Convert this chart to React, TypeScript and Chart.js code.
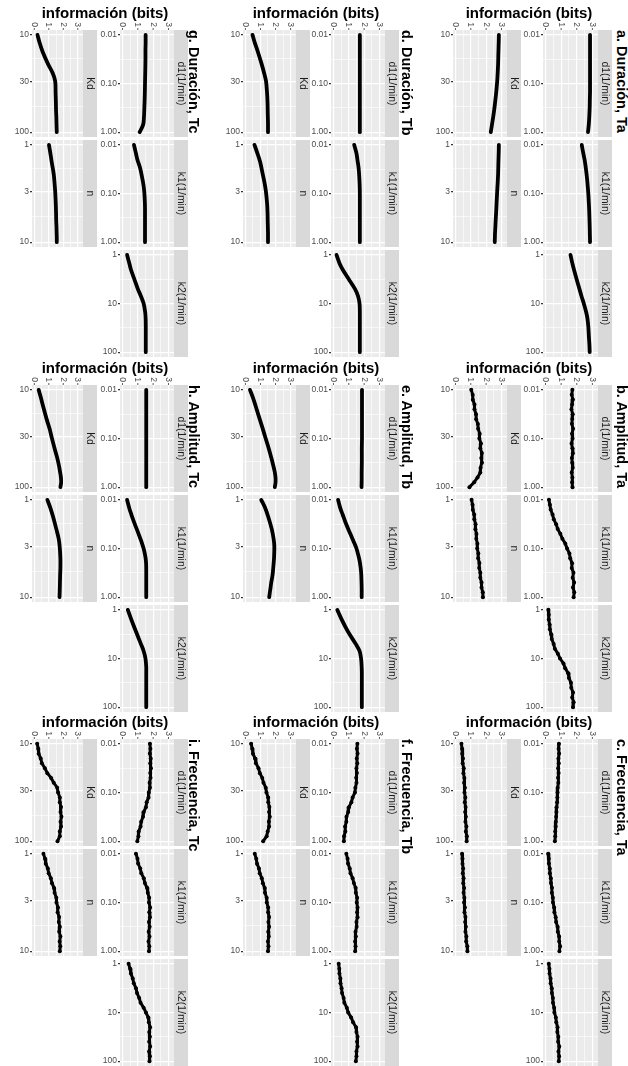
import React, { useEffect, useRef } from "react";
import { Chart, registerables } from "chart.js";
Chart.register(...registerables);

const FONT = '"Liberation Sans", Arial, Helvetica, sans-serif';

// ---- parameter grids (values along the log axis) ----
const gridRate = [0.01, 0.015, 0.02, 0.03, 0.05, 0.07, 0.1, 0.15, 0.2, 0.3, 0.5, 0.7, 1];
const gridK2 = [1, 1.5, 2, 3, 5, 7, 10, 15, 20, 30, 50, 70, 100];
const gridKd = [10, 12, 15, 20, 25, 30, 40, 50, 60, 70, 80, 90, 100];
const gridN = [1, 1.2, 1.5, 2, 2.5, 3, 4, 5, 6, 7, 8, 9, 10];
// denser grids used for the noisy (scatter-like) panels
const fineRate = [0.01, 0.0126, 0.0158, 0.02, 0.0251, 0.0316, 0.0398, 0.05, 0.063, 0.0794, 0.1, 0.126, 0.158, 0.2, 0.251, 0.316, 0.398, 0.5, 0.63, 0.794, 1];
const fineK2 = [1, 1.26, 1.58, 2, 2.51, 3.16, 3.98, 5.01, 6.31, 7.94, 10, 12.6, 15.8, 20, 25.1, 31.6, 39.8, 50.1, 63.1, 79.4, 100];
const fineKd = [10, 11.2, 12.6, 14.1, 15.8, 17.8, 20, 22.4, 25.1, 28.2, 31.6, 35.5, 39.8, 44.7, 50.1, 56.2, 63.1, 70.8, 79.4, 89.1, 100];
const fineN = [1, 1.12, 1.26, 1.41, 1.58, 1.78, 2, 2.24, 2.51, 2.82, 3.16, 3.55, 3.98, 4.47, 5.01, 5.62, 6.31, 7.08, 7.94, 8.91, 10];

// ---- información (bits) per panel / facet ----
// a. Duración, Ta
const aD1 = [2.85, 2.85, 2.85, 2.85, 2.85, 2.85, 2.85, 2.85, 2.84, 2.83, 2.8, 2.77, 2.72];
const aK1 = [2.32, 2.42, 2.5, 2.58, 2.66, 2.7, 2.74, 2.77, 2.79, 2.81, 2.83, 2.84, 2.85];
const aK2 = [1.6, 1.72, 1.82, 1.97, 2.17, 2.3, 2.45, 2.6, 2.68, 2.74, 2.78, 2.81, 2.83];
const aKd = [2.83, 2.82, 2.8, 2.78, 2.75, 2.72, 2.65, 2.58, 2.52, 2.46, 2.4, 2.35, 2.3];
const aN = [2.83, 2.82, 2.8, 2.78, 2.75, 2.72, 2.68, 2.65, 2.62, 2.6, 2.58, 2.57, 2.56];
// b. Amplitud, Ta (fine grids)
const bD1 = [1.72, 1.68, 1.75, 1.7, 1.66, 1.74, 1.71, 1.69, 1.76, 1.7, 1.73, 1.67, 1.72, 1.75, 1.69, 1.71, 1.74, 1.68, 1.72, 1.7, 1.73];
const bK1 = [0.22, 0.28, 0.33, 0.45, 0.53, 0.68, 0.78, 0.95, 1.08, 1.27, 1.38, 1.53, 1.58, 1.7, 1.68, 1.79, 1.74, 1.83, 1.76, 1.84, 1.8];
const bK2 = [0.18, 0.21, 0.21, 0.26, 0.28, 0.36, 0.4, 0.52, 0.6, 0.79, 0.93, 1.15, 1.26, 1.45, 1.5, 1.63, 1.65, 1.76, 1.71, 1.8, 1.76];
const bKd = [1.03, 1.12, 1.13, 1.24, 1.24, 1.34, 1.35, 1.46, 1.48, 1.58, 1.56, 1.66, 1.62, 1.72, 1.68, 1.73, 1.64, 1.62, 1.44, 1.22, 0.91];
const bN = [1.05, 1.11, 1.13, 1.22, 1.23, 1.31, 1.3, 1.37, 1.36, 1.43, 1.42, 1.49, 1.48, 1.56, 1.55, 1.62, 1.62, 1.7, 1.7, 1.78, 1.79];
// c. Frecuencia, Ta (fine grids)
const cD1 = [0.86, 0.84, 0.87, 0.83, 0.85, 0.81, 0.84, 0.8, 0.82, 0.78, 0.77, 0.76, 0.74, 0.71, 0.7, 0.68, 0.66, 0.65, 0.62, 0.62, 0.6];
const cK1 = [0.17, 0.21, 0.22, 0.27, 0.28, 0.34, 0.35, 0.41, 0.41, 0.47, 0.48, 0.55, 0.57, 0.65, 0.68, 0.77, 0.79, 0.87, 0.88, 0.93, 0.89];
const cK2 = [0.21, 0.25, 0.26, 0.32, 0.33, 0.4, 0.41, 0.47, 0.48, 0.55, 0.57, 0.66, 0.69, 0.77, 0.76, 0.82, 0.81, 0.88, 0.83, 0.87, 0.85];
const cKd = [0.39, 0.43, 0.44, 0.49, 0.47, 0.54, 0.52, 0.58, 0.56, 0.62, 0.59, 0.64, 0.61, 0.66, 0.63, 0.68, 0.65, 0.71, 0.68, 0.74, 0.73];
const cN = [0.43, 0.46, 0.46, 0.5, 0.48, 0.53, 0.51, 0.56, 0.53, 0.58, 0.56, 0.62, 0.59, 0.65, 0.63, 0.68, 0.65, 0.71, 0.7, 0.77, 0.78];
// d. Duración, Tb
const dD1 = [1.72, 1.72, 1.72, 1.72, 1.72, 1.72, 1.72, 1.72, 1.72, 1.72, 1.72, 1.72, 1.72];
const dK1 = [1.35, 1.5, 1.56, 1.64, 1.69, 1.71, 1.72, 1.72, 1.72, 1.72, 1.72, 1.72, 1.72];
const dK2 = [0.2, 0.4, 0.6, 0.95, 1.4, 1.6, 1.7, 1.72, 1.72, 1.72, 1.72, 1.72, 1.72];
const dKd = [0.47, 0.62, 0.83, 1.08, 1.25, 1.37, 1.44, 1.47, 1.48, 1.49, 1.5, 1.5, 1.5];
const dN = [0.6, 0.78, 0.98, 1.15, 1.28, 1.36, 1.44, 1.47, 1.48, 1.49, 1.5, 1.5, 1.5];
// e. Amplitud, Tb
const eD1 = [1.86, 1.86, 1.86, 1.86, 1.86, 1.86, 1.86, 1.85, 1.85, 1.85, 1.84, 1.84, 1.83];
const eK1 = [0.3, 0.45, 0.6, 0.8, 1.1, 1.3, 1.5, 1.65, 1.73, 1.8, 1.83, 1.84, 1.84];
const eK2 = [0.25, 0.5, 0.7, 1.0, 1.45, 1.7, 1.8, 1.84, 1.85, 1.85, 1.85, 1.85, 1.85];
const eKd = [0.3, 0.5, 0.7, 0.95, 1.15, 1.3, 1.55, 1.72, 1.85, 1.95, 2.0, 2.0, 1.95];
const eN = [1.05, 1.3, 1.52, 1.75, 1.87, 1.92, 1.9, 1.85, 1.8, 1.72, 1.67, 1.62, 1.58];
// f. Frecuencia, Tb (fine grids)
const fD1 = [1.56, 1.53, 1.57, 1.52, 1.55, 1.5, 1.53, 1.48, 1.5, 1.43, 1.4, 1.25, 1.17, 1.01, 0.96, 0.85, 0.84, 0.76, 0.77, 0.69, 0.68];
const fK1 = [0.84, 0.92, 0.95, 1.06, 1.11, 1.25, 1.33, 1.44, 1.46, 1.54, 1.52, 1.57, 1.54, 1.57, 1.5, 1.51, 1.44, 1.46, 1.41, 1.44, 1.41];
const fK2 = [0.34, 0.38, 0.39, 0.45, 0.46, 0.53, 0.56, 0.66, 0.71, 0.87, 0.96, 1.15, 1.28, 1.47, 1.5, 1.57, 1.54, 1.57, 1.5, 1.5, 1.46];
const fKd = [0.38, 0.45, 0.5, 0.64, 0.7, 0.87, 0.96, 1.12, 1.2, 1.35, 1.4, 1.51, 1.52, 1.59, 1.57, 1.62, 1.56, 1.57, 1.48, 1.41, 1.18];
const fN = [0.62, 0.72, 0.77, 0.9, 0.95, 1.09, 1.16, 1.28, 1.3, 1.41, 1.42, 1.51, 1.51, 1.57, 1.53, 1.57, 1.52, 1.55, 1.5, 1.53, 1.5];
// g. Duración, Tc
const gD1 = [1.51, 1.51, 1.5, 1.5, 1.49, 1.48, 1.47, 1.46, 1.45, 1.43, 1.4, 1.35, 1.12];
const gK1 = [0.75, 0.88, 0.97, 1.15, 1.3, 1.38, 1.43, 1.46, 1.47, 1.47, 1.47, 1.47, 1.47];
const gK2 = [0.3, 0.45, 0.55, 0.75, 1.0, 1.2, 1.38, 1.48, 1.51, 1.52, 1.52, 1.52, 1.52];
const gKd = [0.22, 0.36, 0.58, 0.95, 1.28, 1.44, 1.47, 1.49, 1.5, 1.52, 1.53, 1.54, 1.55];
const gN = [1.01, 1.1, 1.2, 1.34, 1.4, 1.44, 1.48, 1.5, 1.51, 1.53, 1.54, 1.55, 1.55];
// h. Amplitud, Tc
const hD1 = [1.55, 1.55, 1.55, 1.55, 1.55, 1.55, 1.55, 1.55, 1.55, 1.55, 1.55, 1.55, 1.55];
const hK1 = [0.3, 0.45, 0.58, 0.78, 1.05, 1.22, 1.38, 1.5, 1.54, 1.55, 1.55, 1.55, 1.55];
const hK2 = [0.35, 0.55, 0.7, 0.92, 1.2, 1.38, 1.5, 1.55, 1.55, 1.55, 1.55, 1.55, 1.55];
const hKd = [0.3, 0.45, 0.62, 0.85, 1.05, 1.18, 1.4, 1.58, 1.7, 1.78, 1.84, 1.85, 1.8];
const hN = [0.9, 1.1, 1.3, 1.52, 1.68, 1.75, 1.8, 1.8, 1.78, 1.77, 1.76, 1.75, 1.74];
// i. Frecuencia, Tc (fine grids)
const iD1 = [1.79, 1.82, 1.79, 1.84, 1.81, 1.86, 1.81, 1.83, 1.77, 1.79, 1.72, 1.7, 1.58, 1.53, 1.39, 1.34, 1.22, 1.18, 1.06, 1.04, 0.97];
const iK1 = [0.88, 0.98, 1.02, 1.16, 1.23, 1.39, 1.46, 1.6, 1.65, 1.74, 1.73, 1.8, 1.75, 1.79, 1.73, 1.77, 1.71, 1.76, 1.7, 1.75, 1.73];
const iK2 = [0.4, 0.5, 0.55, 0.67, 0.74, 0.88, 0.95, 1.09, 1.18, 1.38, 1.53, 1.68, 1.72, 1.8, 1.75, 1.79, 1.74, 1.8, 1.74, 1.79, 1.76];
const iKd = [0.2, 0.27, 0.3, 0.44, 0.52, 0.73, 0.9, 1.16, 1.34, 1.58, 1.64, 1.76, 1.76, 1.84, 1.81, 1.87, 1.81, 1.84, 1.76, 1.76, 1.6];
const iN = [0.63, 0.74, 0.79, 0.93, 0.99, 1.14, 1.22, 1.36, 1.4, 1.52, 1.53, 1.63, 1.61, 1.71, 1.69, 1.76, 1.72, 1.8, 1.75, 1.79, 1.76];

const INFO_TICKS = [0, 0.5, 1, 1.5, 2, 2.5, 3];
const INFO_LABELS = ["0", "1", "2", "3"];

const PANELS = [
  { title: "a. Duración, Ta", col: 2, row: 0, noisy: false, d1: aD1, k1: aK1, k2: aK2, Kd: aKd, n: aN },
  { title: "b. Amplitud, Ta", col: 2, row: 1, noisy: true, d1: bD1, k1: bK1, k2: bK2, Kd: bKd, n: bN },
  { title: "c. Frecuencia, Ta", col: 2, row: 2, noisy: true, d1: cD1, k1: cK1, k2: cK2, Kd: cKd, n: cN },
  { title: "d. Duración, Tb", col: 1, row: 0, noisy: false, d1: dD1, k1: dK1, k2: dK2, Kd: dKd, n: dN },
  { title: "e. Amplitud, Tb", col: 1, row: 1, noisy: false, d1: eD1, k1: eK1, k2: eK2, Kd: eKd, n: eN },
  { title: "f. Frecuencia, Tb", col: 1, row: 2, noisy: true, d1: fD1, k1: fK1, k2: fK2, Kd: fKd, n: fN },
  { title: "g. Duración, Tc", col: 0, row: 0, noisy: false, d1: gD1, k1: gK1, k2: gK2, Kd: gKd, n: gN },
  { title: "h. Amplitud, Tc", col: 0, row: 1, noisy: false, d1: hD1, k1: hK1, k2: hK2, Kd: hKd, n: hN },
  { title: "i. Frecuencia, Tc", col: 0, row: 2, noisy: true, d1: iD1, k1: iK1, k2: iK2, Kd: iKd, n: iN },
];

// ---- layout ----
const COLS = [
  { kdL: 32, kdW: 51, rL: 120, rW: 54, titleX: 194, axisX: 105 },
  { kdL: 243, kdW: 53, rL: 331, rW: 54, titleX: 407, axisX: 316 },
  { kdL: 453, kdW: 54, rL: 543, rW: 55, titleX: 622, axisX: 529 },
];
const ROW_TOPS = [30, 385, 739];
const FACET_H = 107;
const FACET_GAP = 3;
const STRIP_W = 14;
const YAXIS_W = 26;

const AXES: Record<string, { min: number; max: number; major: number[]; labels: string[] }> = {
  rate: { min: Math.pow(10, -2.1), max: Math.pow(10, 0.1), major: [0.01, 0.1, 1], labels: ["0.01", "0.10", "1.00"] },
  k2: { min: Math.pow(10, -0.1), max: Math.pow(10, 2.1), major: [1, 10, 100], labels: ["1", "10", "100"] },
  Kd: { min: Math.pow(10, 0.95), max: Math.pow(10, 2.05), major: [10, 30, 100], labels: ["10", "30", "100"] },
  n: { min: Math.pow(10, -0.05), max: Math.pow(10, 1.05), major: [1, 3, 10], labels: ["1", "3", "10"] },
};

const FACET_DEFS = [
  { key: "d1", label: "d1(1/min)", side: "r", sub: 0, axis: "rate", grid: gridRate, fine: fineRate },
  { key: "k1", label: "k1(1/min)", side: "r", sub: 1, axis: "rate", grid: gridRate, fine: fineRate },
  { key: "k2", label: "k2(1/min)", side: "r", sub: 2, axis: "k2", grid: gridK2, fine: fineK2 },
  { key: "Kd", label: "Kd", side: "kd", sub: 0, axis: "Kd", grid: gridKd, fine: fineKd },
  { key: "n", label: "n", side: "kd", sub: 1, axis: "n", grid: gridN, fine: fineN },
];

const FACETS = PANELS.flatMap((p) =>
  FACET_DEFS.map((fd) => {
    const col = COLS[p.col];
    const facetL = fd.side === "r" ? col.rL : col.kdL;
    const facetW = fd.side === "r" ? col.rW : col.kdW;
    const facetTop = ROW_TOPS[p.row] + fd.sub * (FACET_H + FACET_GAP);
    const padTop = fd.sub === 0 ? 18 : 7;
    const padBottom = 7;
    return {
      panel: p,
      def: fd,
      xs: (p as any)[fd.key] as number[],
      ys: p.noisy ? fd.fine : fd.grid,
      left: facetL - YAXIS_W,
      top: facetTop - padTop,
      w: YAXIS_W + facetW + STRIP_W,
      h: padTop + FACET_H + padBottom,
      padTop,
      padBottom,
      showTop: fd.sub === 0,
    };
  })
);

const isNear = (a: number, b: number) => Math.abs(a - b) / Math.abs(b || 1) < 1e-6;

const facetPlugin = {
  id: "facetDeco",
  beforeDraw(chart: any, _args: any, opts: any) {
    const { ctx, chartArea: a } = chart;
    ctx.save();
    ctx.fillStyle = "#EBEBEB";
    ctx.fillRect(a.left, a.top, a.right - a.left, a.bottom - a.top);
    ctx.fillStyle = "#D9D9D9";
    ctx.fillRect(a.right, a.top, STRIP_W, a.bottom - a.top);
    ctx.translate(a.right + STRIP_W / 2, (a.top + a.bottom) / 2);
    ctx.rotate(Math.PI / 2);
    ctx.fillStyle = "#1A1A1A";
    ctx.font = `10.4px ${FONT}`;
    ctx.textAlign = "center";
    ctx.textBaseline = "middle";
    ctx.fillText(opts.label, 0, 0);
    ctx.restore();
    if (opts.showTop) {
      const xs = chart.scales.x;
      ctx.save();
      ctx.strokeStyle = "#333333";
      ctx.lineWidth = 0.8;
      ctx.fillStyle = "#4D4D4D";
      ctx.font = `8.5px ${FONT}`;
      INFO_LABELS.forEach((lab, i) => {
        const px = xs.getPixelForValue(i);
        ctx.beginPath();
        ctx.moveTo(px, a.top - 2);
        ctx.lineTo(px, a.top);
        ctx.stroke();
        ctx.save();
        ctx.translate(px, a.top - 3);
        ctx.rotate(Math.PI / 2);
        ctx.textAlign = "right";
        ctx.textBaseline = "middle";
        ctx.fillText(lab, 0, 0);
        ctx.restore();
      });
      ctx.restore();
    }
  },
};

function buildConfig(f: (typeof FACETS)[number]): any {
  const ax = AXES[f.def.axis];
  const minors: number[] = [];
  for (let i = 0; i < ax.major.length - 1; i++) minors.push(Math.sqrt(ax.major[i] * ax.major[i + 1]));
  const allTicks = [...ax.major, ...minors].sort((p, q) => p - q);
  const isMajor = (v: number) => ax.major.some((m) => isNear(v, m));
  const noisy = f.panel.noisy;
  return {
    type: "line",
    data: {
      datasets: [
        {
          data: f.xs.map((x, i) => ({ x, y: f.ys[i] })),
          borderColor: "#000000",
          backgroundColor: "#000000",
          borderWidth: noisy ? 3 : 3.8,
          pointRadius: noisy ? 2 : 0,
          pointHoverRadius: 0,
          pointBorderWidth: 0,
          tension: noisy ? 0 : 0.35,
          fill: false,
          clip: 0,
          borderCapStyle: "round",
          borderJoinStyle: "round",
        },
      ],
    },
    options: {
      responsive: false,
      animation: false,
      devicePixelRatio: 1,
      events: [],
      layout: { padding: { left: 0, right: STRIP_W, top: f.padTop, bottom: f.padBottom } },
      plugins: {
        legend: { display: false },
        tooltip: { enabled: false },
        facetDeco: { label: f.def.label, showTop: f.showTop },
      },
      scales: {
        x: {
          type: "linear",
          position: "top",
          min: -0.16,
          max: 3.36,
          bounds: "data",
          afterBuildTicks: (s: any) => {
            s.ticks = INFO_TICKS.map((v) => ({ value: v }));
          },
          afterFit: (s: any) => {
            s.height = 0;
          },
          ticks: { display: false },
          grid: {
            color: "#FFFFFF",
            lineWidth: (c: any) => (c.tick && Number.isInteger(c.tick.value) ? 1.2 : 0.6),
            drawTicks: false,
          },
          border: { display: false },
        },
        y: {
          type: "logarithmic",
          position: "left",
          reverse: true,
          min: ax.min,
          max: ax.max,
          bounds: "data",
          afterBuildTicks: (s: any) => {
            s.ticks = allTicks.map((v) => ({ value: v }));
          },
          afterFit: (s: any) => {
            s.width = YAXIS_W;
          },
          ticks: {
            autoSkip: false,
            color: "#4D4D4D",
            padding: 1,
            font: { family: FONT, size: 8.5 },
            callback: (v: number) => {
              const idx = ax.major.findIndex((m) => isNear(v, m));
              return idx >= 0 ? ax.labels[idx] : "";
            },
          },
          grid: {
            color: "#FFFFFF",
            lineWidth: (c: any) => (c.tick && isMajor(c.tick.value) ? 1.2 : 0.6),
            tickColor: (c: any) => (c.tick && isMajor(c.tick.value) ? "#333333" : "rgba(0,0,0,0)"),
            tickLength: 2,
            drawTicks: true,
          },
          border: { display: false },
        },
      },
    },
    plugins: [facetPlugin],
  };
}

export default function App() {
  const refs = useRef<(HTMLCanvasElement | null)[]>([]);
  useEffect(() => {
    const charts: Chart[] = [];
    FACETS.forEach((f, i) => {
      const c = refs.current[i];
      if (c) charts.push(new Chart(c, buildConfig(f)));
    });
    return () => charts.forEach((ch) => ch.destroy());
  }, []);

  return (
    <div
      style={{
        position: "absolute",
        left: 0,
        top: 0,
        width: 628,
        height: 1066,
        background: "#FFFFFF",
        overflow: "hidden",
        fontFamily: FONT,
      }}
    >
      {FACETS.map((f, i) => (
        <canvas
          key={i}
          ref={(el) => {
            refs.current[i] = el;
          }}
          width={f.w}
          height={f.h}
          style={{ position: "absolute", left: f.left, top: f.top, width: f.w, height: f.h }}
        />
      ))}
      {PANELS.map((p, i) => (
        <React.Fragment key={"t" + i}>
          <div
            style={{
              position: "absolute",
              left: COLS[p.col].axisX - 100,
              top: ROW_TOPS[p.row] - 26,
              width: 200,
              textAlign: "center",
              font: `bold 15px ${FONT}`,
              lineHeight: "18px",
              color: "#000000",
              whiteSpace: "nowrap",
            }}
          >
            información (bits)
          </div>
          <div
            style={{
              position: "absolute",
              left: COLS[p.col].titleX + 8,
              top: ROW_TOPS[p.row],
              transformOrigin: "0 0",
              transform: "rotate(90deg)",
              font: `bold 14.5px ${FONT}`,
              lineHeight: "16px",
              color: "#000000",
              whiteSpace: "nowrap",
            }}
          >
            {p.title}
          </div>
        </React.Fragment>
      ))}
    </div>
  );
}
